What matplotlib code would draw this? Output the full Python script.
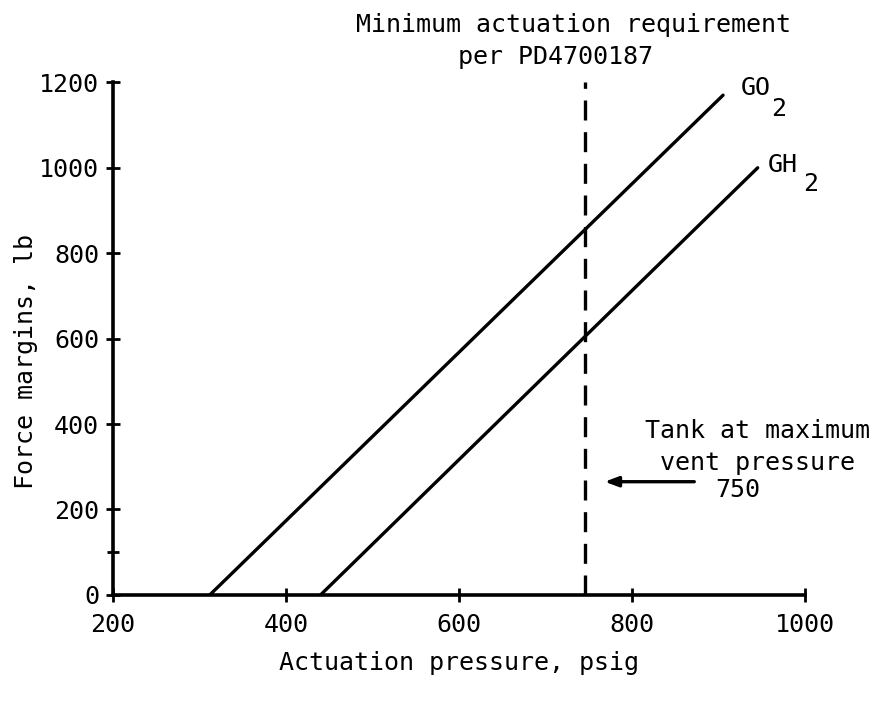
import matplotlib
matplotlib.use("Agg")
import matplotlib.pyplot as plt

plt.rcParams["font.family"] = "DejaVu Sans Mono"

# force margin vs actuation pressure, straight lines (end points)
go2_x = [312, 905]
go2_y = [0, 1170]
gh2_x = [440, 945]
gh2_y = [0, 1000]
req_x = 745          # minimum actuation requirement
req_y = [0, 1200]
vent_p = 750         # tank max vent pressure

x_ticks = [200, 400, 600, 800, 1000]
y_ticks = [0, 200, 400, 600, 800, 1000, 1200]

FS = 18
fig = plt.figure(figsize=(8.82, 7.04), dpi=100)
ax = fig.add_axes([0.128, 0.155, 0.785, 0.728])

ax.plot(go2_x, go2_y, color="black", lw=2.4, solid_capstyle="round")
ax.plot(gh2_x, gh2_y, color="black", lw=2.4, solid_capstyle="round")
ax.plot([req_x, req_x], req_y, color="black", lw=2.4, ls=(0, (6, 3.5)))

ax.set_xlim(200, 1000)
ax.set_ylim(0, 1200)
ax.set_xticks(x_ticks)
ax.set_yticks(y_ticks)
ax.set_yticks([100], minor=True)
for s in ("top", "right"):
    ax.spines[s].set_visible(False)
for s in ("left", "bottom"):
    ax.spines[s].set_linewidth(2.6)
ax.tick_params(direction="inout", length=10, width=2, labelsize=FS)
ax.tick_params(axis="y", pad=5)
ax.tick_params(axis="x", pad=8)
ax.tick_params(which="minor", direction="inout", length=8, width=2)

ax.set_xlabel("Actuation pressure, psig", fontsize=FS, labelpad=10)
ax.set_ylabel("Force margins, lb", fontsize=FS)
ax.yaxis.set_label_coords(-0.108, 0.455)

# header over the dashed requirement line
ax.text(732, 1318, "Minimum actuation requirement", fontsize=FS,
        ha="center", va="baseline", clip_on=False)
ax.text(711, 1243, "per PD4700187", fontsize=FS,
        ha="center", va="baseline", clip_on=False)

# curve labels with dropped subscripts
ax.text(925, 1186, "GO", fontsize=FS, ha="left", va="center", clip_on=False)
ax.text(960, 1138, "2", fontsize=FS, ha="left", va="center", clip_on=False)
ax.text(957, 1006, "GH", fontsize=FS, ha="left", va="center", clip_on=False)
ax.text(997, 962, "2", fontsize=FS, ha="left", va="center", clip_on=False)

ax.text(945, 367, "Tank at maximum", fontsize=FS, ha="center", va="baseline", clip_on=False)
ax.text(945, 292, "vent pressure", fontsize=FS, ha="center", va="baseline", clip_on=False)
ax.text(922, 229, f"{vent_p}", fontsize=FS, ha="center", va="baseline", clip_on=False)
ax.annotate("", xy=(765, 265), xytext=(875, 265),
            arrowprops=dict(arrowstyle="-|>,head_length=0.8,head_width=0.3",
                            color="black", lw=2.4))

fig.savefig("out.png", dpi=100)
